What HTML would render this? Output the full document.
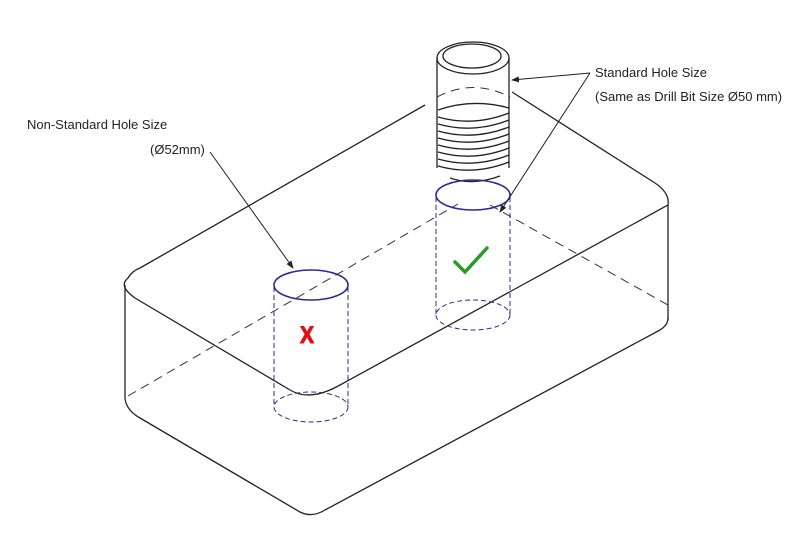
<!DOCTYPE html>
<html><head><meta charset="utf-8"><style>
body{margin:0;background:#fff;}
svg{display:block;}
text{font-family:"Liberation Sans",sans-serif;font-size:13px;fill:#222;}
</style></head><body>
<svg width="812" height="540" viewBox="0 0 812 540">
<defs><marker id="a" markerWidth="8" markerHeight="8" refX="7" refY="4" orient="auto"><path d="M0,1 L8,4 L0,7 z" fill="#222"/></marker></defs>
<g fill="none" stroke="#222" stroke-width="1.3">
<path d="M140,268 L425,105 M512,92 L655,183 Q670,193 668,205 L340,385 Q310,402 290,390 L135,298 Q118,286 128,278 Q132,271 140,268"/>
<path d="M125,285 L125,398 M668,205 L668,320"/>
<path d="M125,398 Q126,410 140,418 L300,512 Q312,518 325,510 L660,330 Q668,325 668,318"/>
</g>
<g fill="none" stroke="#333" stroke-width="1" stroke-dasharray="9,6">
<path d="M128,396 L458,204 M490,205 L668,305"/>
<path d="M437,97 Q473,78 510,97"/>
</g>
<g fill="none" stroke="#222" stroke-width="1.3">
<ellipse cx="473" cy="58" rx="36" ry="16" fill="#fff"/>
<ellipse cx="472" cy="56" rx="29" ry="12"/>
<path d="M437,58 L437,168 M509,58 L509,168"/>
<path d="M438,110 Q473,98 509,108"/>
<path d="M438,117 Q473,127 509,113 M438,124 Q473,134 509,120 M438,131 Q473,141 509,127 M438,138 Q473,148 509,134 M438,145 Q473,155 509,141 M438,152 Q473,162 509,148 M438,159 Q473,169 509,155 M438,166 Q473,176 509,162"/>
<path d="M450,178 Q473,186 500,176"/>
</g>
<g fill="none" stroke="#2a2a9a" stroke-width="1.6">
<ellipse cx="311" cy="285" rx="37" ry="15"/>
<ellipse cx="473" cy="195" rx="37" ry="15"/>
</g>
<g fill="none" stroke="#2a2a9a" stroke-width="1" stroke-dasharray="5,3">
<path d="M274,287 L274,407 M348,287 L348,407 M436,197 L436,315 M510,197 L510,315"/>
<ellipse cx="311" cy="407" rx="37" ry="15"/>
<ellipse cx="473" cy="315" rx="37" ry="15"/>
</g>
<g stroke="#222" stroke-width="1" fill="none">
<path d="M590,73 L512,80" marker-end="url(#a)"/>
<path d="M590,73 L500,212" marker-end="url(#a)"/>
<path d="M210,152 L293,268" marker-end="url(#a)"/>
</g>
<text x="595" y="77">Standard Hole Size</text>
<text x="595" y="101">(Same as Drill Bit Size Ø50 mm)</text>
<text x="27" y="129">Non-Standard Hole Size</text>
<text x="150" y="154">(Ø52mm)</text>
<path d="M455,262 L465,272 L487,248" fill="none" stroke="#2a9a2a" stroke-width="3.5" stroke-linecap="round"/>
<text x="300" y="343" style="font-size:24px;font-weight:bold;fill:#e01010;stroke:#e01010;stroke-width:1;" textLength="14" lengthAdjust="spacingAndGlyphs">X</text>
</svg>
</body></html>
